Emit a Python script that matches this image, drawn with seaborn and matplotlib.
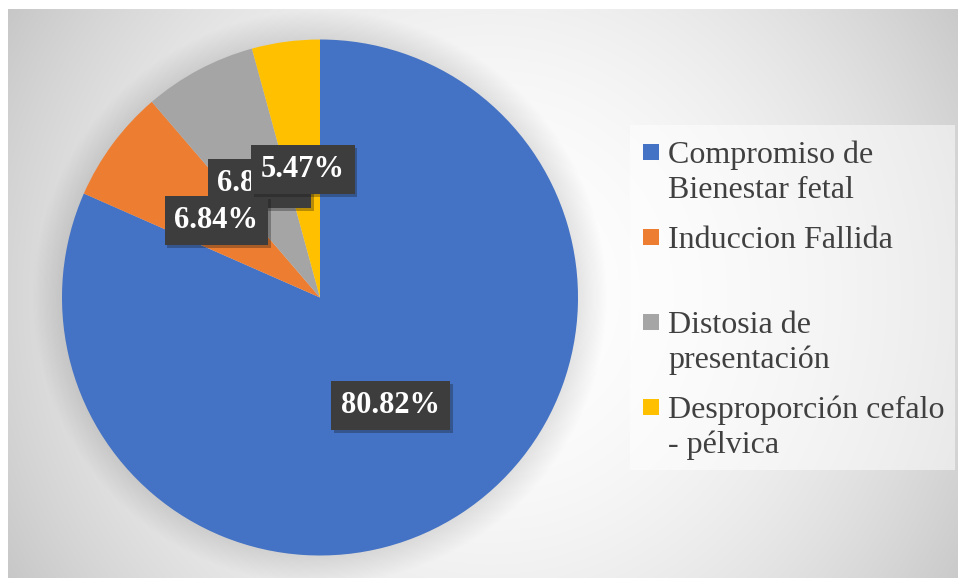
import numpy as np
import matplotlib
matplotlib.use('Agg')
import matplotlib.pyplot as plt
import matplotlib.patheffects as pe
from matplotlib.patches import Rectangle, Circle
import seaborn as sns

# ── Data ──────────────────────────────────────────────────────
categories = ['Compromiso de\nBienestar fetal',
              'Induccion Fallida',
              'Distosia de\npresentación',
              'Desproporción cefalo\n- pélvica']
# wedge sizes as drawn in the picture (labels below are the printed ones)
wedge_sizes = [81.6, 7.1, 7.05, 4.25]
pct_labels = ['80.82%', '6.84%', '6.84%', '5.47%']
colors = sns.color_palette(['#4472C4', '#ED7D31', '#A5A5A5', '#FFC000'])

sns.set_theme(style='white')
plt.rcParams['font.family'] = ['Liberation Serif', 'DejaVu Serif']

W, H = 958, 578
fig = plt.figure(figsize=(W / 100, H / 100), dpi=100)
fig.patch.set_facecolor('white')

# ── Radial gradient background ───────────────────────────────
bw, bh = 950, 569
ax_bg = fig.add_axes([8 / W, 0, bw / W, bh / H])
yy, xx = np.mgrid[0:bh, 0:bw]
d = np.hypot(xx - 482, yy - 285) / 561.0
shade = np.clip(1 - 0.22 * d ** 2, 0, 1)
ax_bg.imshow(np.dstack([shade] * 3), aspect='auto', interpolation='bilinear')
ax_bg.axis('off')

# ── Pie ───────────────────────────────────────────────────────
ax = fig.add_axes([62 / W, 22 / H, 516 / W, 517 / H])
# soft halo behind the pie
for k in range(26):
    ax.add_patch(Circle((0, 0), 1.0 + 0.0045 * k, color='black', alpha=0.0045,
                        lw=0, clip_on=False, zorder=0))
wedges, _ = ax.pie(wedge_sizes, colors=colors, startangle=90, counterclock=False,
                   wedgeprops=dict(linewidth=0))
for w in wedges:
    w.set_zorder(1)
ax.set_xlim(-1, 1)
ax.set_ylim(-1, 1)
ax.axis('off')

# labels: gray under, then orange, yellow on top
order = [0, 2, 1, 3]
for z, i in enumerate(order):
    w = wedges[i]
    ang = np.deg2rad((w.theta1 + w.theta2) / 2)
    t = ax.text(0.5 * np.cos(ang), 0.5 * np.sin(ang), pct_labels[i],
                ha='center', va='center', fontsize=22, fontweight='bold',
                color='white', zorder=5 + z,
                bbox=dict(boxstyle='square,pad=0.32', fc='#3d3d3d', ec='none'))
    t.get_bbox_patch().set_path_effects(
        [pe.SimplePatchShadow(offset=(2, -2), alpha=0.3), pe.Normal()])

# ── Legend (drawn in pixel units) ────────────────────────────
lx0, ly0, lw, lh = 630, 125, 325, 345
ax_leg = fig.add_axes([lx0 / W, (H - ly0 - lh) / H, lw / W, lh / H])
ax_leg.set_xlim(0, lw)
ax_leg.set_ylim(lh, 0)
ax_leg.set_facecolor((1, 1, 1, 0.5))
for s in ax_leg.spines.values():
    s.set_visible(False)
ax_leg.set_xticks([])
ax_leg.set_yticks([])

for i, (lab, c) in enumerate(zip(categories, colors)):
    base = 38 + 85 * i
    ax_leg.add_patch(Rectangle((13, base - 19), 16, 16, color=c, lw=0))
    for j, line in enumerate(lab.split('\n')):
        ax_leg.text(38, base + 35 * j, line, ha='left', va='baseline',
                    fontsize=23, color='#404040')

fig.savefig('out.png', dpi=100)
plt.close(fig)
